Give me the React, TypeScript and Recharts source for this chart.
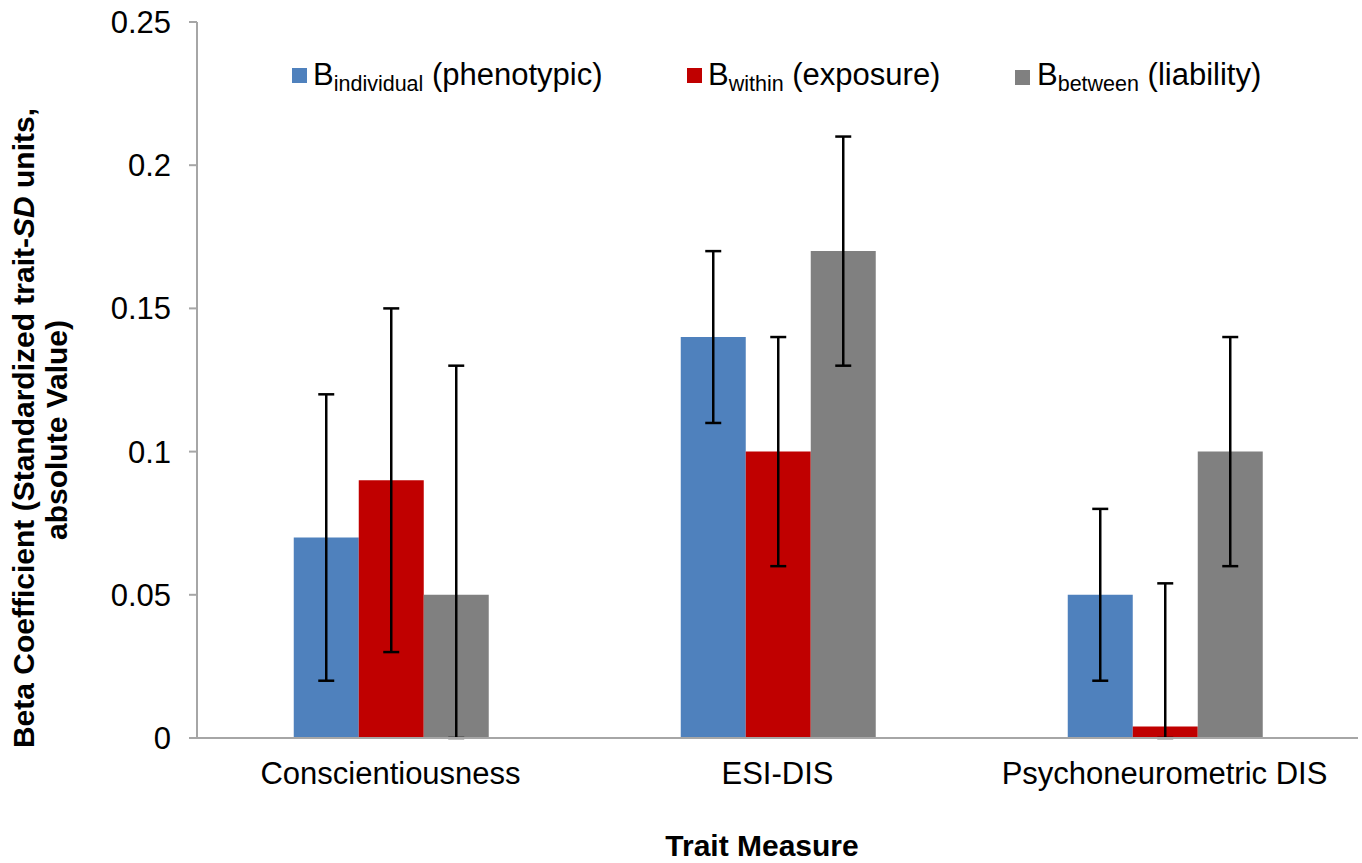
import React from 'react';
import { BarChart, Bar, XAxis, YAxis, ErrorBar, Legend } from 'recharts';

const categories = ['Conscientiousness', 'ESI-DIS', 'Psychoneurometric DIS'];
const individual = [0.07, 0.14, 0.05];
const individualErrLow = [0.05, 0.03, 0.03];
const individualErrHigh = [0.05, 0.03, 0.03];
const within = [0.09, 0.1, 0.004];
const withinErrLow = [0.06, 0.04, 0.004];
const withinErrHigh = [0.06, 0.04, 0.05];
const between = [0.05, 0.17, 0.1];
const betweenErrLow = [0.05, 0.04, 0.04];
const betweenErrHigh = [0.08, 0.04, 0.04];
const yTicks = [0, 0.05, 0.1, 0.15, 0.2, 0.25];

const seriesNames = [
  { key: 'individual', main: 'B', sub: 'individual', rest: ' (phenotypic)', color: '#4F81BD' },
  { key: 'within', main: 'B', sub: 'within', rest: ' (exposure)', color: '#C00000' },
  { key: 'between', main: 'B', sub: 'between', rest: ' (liability)', color: '#808080' },
];

const data = categories.map((c, i) => ({
  name: c,
  individual: individual[i],
  individualErr: [individualErrLow[i], individualErrHigh[i]],
  within: within[i],
  withinErr: [withinErrLow[i], withinErrHigh[i]],
  between: between[i],
  betweenErr: [betweenErrLow[i], betweenErrHigh[i]],
}));

const FONT = '"Liberation Sans", Arial, sans-serif';
const AXIS = '#A6A6A6';

const legendPos = [
  { sq: 292, sqTop: 68, text: 313 },
  { sq: 687, sqTop: 68, text: 708 },
  { sq: 1015, sqTop: 70, text: 1037 },
];

const LegendContent = () => (
  <div style={{ position: 'relative', width: 0, height: 0, fontFamily: FONT }}>
    {seriesNames.map((s, i) => (
      <React.Fragment key={s.key}>
        <div
          style={{
            position: 'absolute',
            left: legendPos[i].sq,
            top: legendPos[i].sqTop,
            width: 15,
            height: 15,
            background: s.color,
          }}
        />
        <div
          style={{
            position: 'absolute',
            left: legendPos[i].text,
            top: 60,
            fontSize: 31,
            lineHeight: '30px',
            whiteSpace: 'nowrap',
            color: '#000',
          }}
        >
          {s.main}
          <span style={{ fontSize: 21.5, position: 'relative', top: 6 }}>{s.sub}</span>
          {s.rest}
        </div>
      </React.Fragment>
    ))}
  </div>
);

const YLabel = () => (
  <g>
    <text
      x={34}
      y={428}
      transform="rotate(-90 34 428)"
      textAnchor="middle"
      fontFamily={FONT}
      fontWeight="bold"
      fontSize={30}
      fill="#000"
    >
      Beta Coefficient (Standardized trait-<tspan fontStyle="italic">SD</tspan> units,
    </text>
    <text
      x={67}
      y={430}
      transform="rotate(-90 67 430)"
      textAnchor="middle"
      fontFamily={FONT}
      fontWeight="bold"
      fontSize={30}
      fill="#000"
    >
      absolute Value)
    </text>
  </g>
);

const XLabel = () => (
  <text
    x={762}
    y={856}
    textAnchor="middle"
    fontFamily={FONT}
    fontWeight="bold"
    fontSize={30}
    fill="#000"
  >
    Trait Measure
  </text>
);

export default function App() {
  return (
    <div style={{ position: 'absolute', left: 0, top: 0, background: '#fff' }}>
      <BarChart
        width={1362}
        height={863}
        data={data}
        margin={{ top: 22, right: 4, bottom: 0, left: 0 }}
        barCategoryGap="25%"
        barGap={0}
      >
        <XAxis
          dataKey="name"
          height={125}
          tickLine={false}
          tickSize={6}
          tickMargin={18}
          axisLine={{ stroke: AXIS, strokeWidth: 2 }}
          tick={{ fontFamily: FONT, fontSize: 31, fill: '#000' }}
          label={<XLabel />}
        />
        <YAxis
          width={197}
          domain={[0, 0.25]}
          allowDataOverflow
          ticks={yTicks}
          tickSize={8}
          tickMargin={18}
          axisLine={{ stroke: AXIS, strokeWidth: 2 }}
          tickLine={{ stroke: AXIS, strokeWidth: 2 }}
          tick={{ fontFamily: FONT, fontSize: 31, fill: '#000' }}
          label={<YLabel />}
        />
        <Legend content={<LegendContent />} wrapperStyle={{ top: 0, left: 0, width: 0, height: 0 }} />
        <Bar dataKey="individual" fill="#4F81BD" isAnimationActive={false}>
          <ErrorBar dataKey="individualErr" width={8} stroke="#000" strokeWidth={2.5} />
        </Bar>
        <Bar dataKey="within" fill="#C00000" isAnimationActive={false}>
          <ErrorBar dataKey="withinErr" width={8} stroke="#000" strokeWidth={2.5} />
        </Bar>
        <Bar dataKey="between" fill="#808080" isAnimationActive={false}>
          <ErrorBar dataKey="betweenErr" width={8} stroke="#000" strokeWidth={2.5} />
        </Bar>
      </BarChart>
    </div>
  );
}
